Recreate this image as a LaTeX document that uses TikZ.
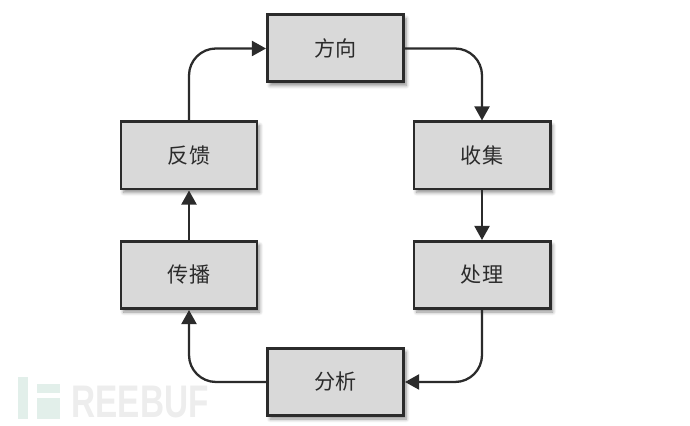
\documentclass[tikz,border=0pt]{standalone}
\usepackage{fontspec}
\setmainfont{Liberation Sans}
\newfontfamily\cjk{Noto Sans CJK SC}
\usetikzlibrary{arrows.meta,shadows.blur}
\definecolor{boxgray}{HTML}{D9D9D9}
\definecolor{linegray}{HTML}{2B2B2B}
\definecolor{markgreen}{HTML}{E2EFEA}
\definecolor{markgray}{HTML}{EDEDED}
\tikzset{
  stepbox/.style={draw=linegray,fill=boxgray,line width=1.7pt,minimum width=2.72cm,minimum height=1.34cm,inner sep=0pt,
    text=linegray,font=\cjk\fontsize{12}{12}\selectfont,
    blur shadow={shadow xshift=1.5pt,shadow yshift=-2pt,shadow blur steps=6,shadow blur radius=2pt,shadow opacity=45}},
  link/.style={draw=linegray,line width=1.3pt,-{Triangle[length=8pt,width=8.5pt]},rounded corners=0.54cm}
}
\begin{document}
\begin{tikzpicture}
  \useasboundingbox (0,0) rectangle (13.8,8.52);

  % watermark
  \fill[markgreen] (0.36,0.14) rectangle (0.56,0.98);
  \fill[markgreen] (0.74,0.66) rectangle (1.20,0.84);
  \fill[markgreen] (0.74,0.14) rectangle (1.20,0.56);
  \node[text=markgray,font=\bfseries\fontsize{26}{26}\selectfont,xscale=0.73,inner sep=0pt] (mark) at (2.80,0.48) {REEBUF};

  \begin{scope}[every node/.style={stepbox}]
    \node (direction) at (6.71,7.55) {方向};
    \node (collect)   at (9.64,5.41) {收集};
    \node (process)   at (9.64,3.02) {处理};
    \node (analyze)   at (6.71,0.88) {分析};
    \node (spread)    at (3.78,3.02) {传播};
    \node (feedback)  at (3.78,5.41) {反馈};
  \end{scope}

  \begin{scope}[every path/.style={link}]
    \path (direction.east) -| (collect.north);
    \path (collect) -- (process);
    \path (process.south) |- (analyze.east);
    \path (analyze.west) -| (spread.south);
    \path (spread) -- (feedback);
    \path (feedback.north) |- (direction.west);
  \end{scope}

\end{tikzpicture}
\end{document}
